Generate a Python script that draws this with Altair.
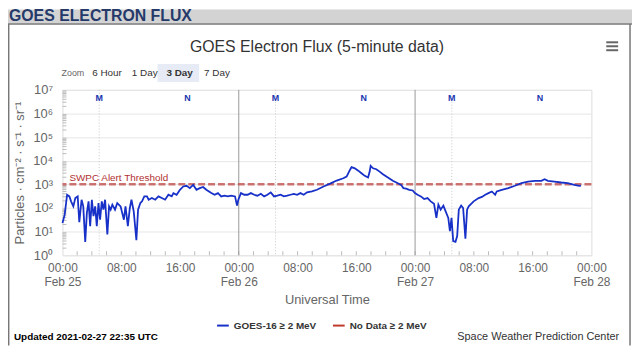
import altair as alt
import pandas as pd

FONT = "Liberation Sans"

# hours after 2021-02-25 00:00 UTC
HOURS = [0.0, 0.3, 0.63, 0.94, 1.17, 1.48, 1.75, 2.07, 2.29, 2.6, 2.83, 3.1, 3.32, 3.55, 3.77, 4.0,
         4.22, 4.45, 4.67, 4.9, 5.12, 5.35, 5.57, 5.8, 6.11, 6.34, 6.56, 6.79, 7.15, 7.46, 7.91, 8.36,
         8.58, 8.9, 9.17, 9.39, 9.7, 10.06, 10.29, 10.6, 10.83, 11.14, 11.5, 11.73, 12.17, 12.62,
         13.07, 13.52, 13.97, 14.42, 14.87, 15.1, 15.54, 15.99, 16.44, 16.89, 17.34, 17.79, 18.24,
         18.69, 19.14, 19.58, 20.26, 20.71, 21.16, 21.61, 22.06, 22.51, 22.95, 23.49, 23.76, 23.94,
         24.3, 24.75, 25.2, 25.65, 26.1, 26.55, 27.0, 27.45, 27.9, 28.35, 28.8, 29.24, 29.69, 30.14,
         30.59, 31.04, 31.49, 31.94, 32.39, 32.84, 33.29, 33.96, 34.64, 35.54, 36.43, 37.33, 38.23,
         38.68, 39.13, 39.35, 39.8, 40.26, 40.7, 41.15, 41.6, 41.82, 41.95, 42.28, 42.72, 43.17,
         43.62, 44.3, 44.97, 45.65, 46.09, 46.41, 46.77, 47.21, 47.67, 47.98, 48.34, 48.79, 49.23,
         49.69, 50.13, 50.58, 50.9, 51.17, 51.48, 51.85, 52.16, 52.52, 52.74, 52.96, 53.19, 53.5,
         53.73, 53.95, 54.27, 54.54, 54.85, 55.08, 55.3, 55.53, 55.97, 56.65, 57.1, 57.55, 57.99,
         58.45, 58.9, 59.12, 59.8, 60.69, 61.59, 62.49, 63.38, 64.29, 65.19, 65.63, 66.08, 66.98,
         67.88, 68.77, 69.68, 70.35, 70.58]

FLUX = [23, 52, 363, 309, 191, 117, 263, 309, 25, 224, 117, 3.7, 62, 191, 17, 224,
        45, 117, 17, 162, 32, 191, 85, 224, 7.6, 117, 85, 138, 85, 162, 117, 32,
        117, 17, 100, 224, 72, 4.3, 85, 162, 191, 309, 309, 224, 263, 224,
        309, 263, 224, 363, 309, 427, 363, 589, 813, 871, 692, 955, 589,
        692, 776, 589, 427, 363, 427, 309, 331, 309, 331, 309, 126, 224,
        427, 363, 363, 427, 363, 331, 398, 309, 363, 457, 309, 331, 363, 309,
        331, 363, 398, 363, 427, 363, 457, 501, 589, 813, 1070, 1450, 1820,
        2140, 4070, 5370, 4790, 3800, 2950, 2290, 1950, 3470, 6030, 4790, 4370, 3470,
        2690, 1950, 1410, 1120, 955, 692, 661, 589, 550, 427, 363, 309, 240,
        263, 191, 151, 38, 138, 85, 126, 72, 38, 10.5, 38, 4.0, 3.7,
        6.5, 85, 126, 100, 5.0, 85, 117, 138, 191, 263, 295, 363, 427,
        501, 363, 501, 589, 692, 871, 1120, 1320, 1410, 1410, 1660, 1410, 1320,
        1200, 1120, 955, 871, 891]

SERIES = ["GOES-16 ≥ 2 MeV", "No Data ≥ 2 MeV"]
SERIES_COLORS = ["#1730c8", "#c0392b"]
THRESHOLD = [1000]
DAY_LINES = [24, 48]
M_HOURS = [5, 29, 53]
N_HOURS = [17, 41, 65]
X_TICKS = [0, 8, 16, 24, 32, 40, 48, 56, 64, 72]
MINOR_X = list(range(2, 72, 2))
Y_TICKS = [1, 10, 100, 1e3, 1e4, 1e5, 1e6, 1e7]
MINOR_Y = [m * 10 ** k for k in range(7) for m in range(2, 10)]

W, H = 534, 167

flux_df = pd.DataFrame({"hour": HOURS, "flux": FLUX, "series": SERIES[0]})
ONE = pd.DataFrame({"k": [0]})

x_lab = ("datum.value % 24 == 0 ? ['00:00', 'Feb ' + (25 + datum.value / 24)] : "
         "(datum.value % 24 == 8 ? '08:00' : '16:00')")
y_lab = "'10' + ['⁰','¹','²','³','⁴','⁵','⁶','⁷'][round(log(datum.value) / LN10)]"

xscale = alt.Scale(domain=[0, 72], nice=False, zero=False)
yscale = alt.Scale(type="log", domain=[1, 1e7], nice=False)

X_AXIS = alt.Axis(values=X_TICKS, labelExpr=x_lab, title="Universal Time", grid=False,
                  ticks=False, domain=False, labelFontSize=12, labelColor="#666",
                  labelLineHeight=15, labelPadding=7, labelFlush=False, labelOverlap=False,
                  titleFontSize=13, titleColor="#666", titleFontWeight="normal",
                  titlePadding=6, labelFont=FONT, titleFont=FONT)
Y_AXIS = alt.Axis(values=Y_TICKS, labelExpr=y_lab, title="Particles · cm⁻² · s⁻¹ · sr⁻¹",
                  grid=True, gridColor="#e6e6e6", ticks=False, domain=False,
                  labelFontSize=13, labelColor="#666", labelPadding=10, labelFont=FONT,
                  titleFontSize=13, titleColor="#666", titleFontWeight="normal",
                  titlePadding=6, titleFont=FONT)


def xenc(field):
    return alt.X(field, scale=xscale, axis=X_AXIS)


def yenc(field):
    return alt.Y(field, scale=yscale, axis=Y_AXIS)


line = alt.Chart(flux_df).mark_line(strokeWidth=1.8, interpolate="linear").encode(
    x=xenc("hour:Q"),
    y=yenc("flux:Q"),
    color=alt.Color("series:N", scale=alt.Scale(domain=SERIES, range=SERIES_COLORS),
                    legend=alt.Legend(orient="none", legendX=155, legendY=231, direction="horizontal",
                                      title=None, symbolType="stroke", symbolStrokeWidth=2,
                                      symbolSize=140, labelFontSize=10, labelFontWeight="bold",
                                      labelColor="#333", labelFont=FONT, columnPadding=12)),
)

thr = alt.Chart(pd.DataFrame({"flux": THRESHOLD})).mark_rule(
    color="#c0504d", opacity=0.8, strokeWidth=2.5, strokeDash=[7, 3]).encode(
    y=yenc("flux:Q"))

minor_y = alt.Chart(pd.DataFrame({"flux": MINOR_Y})).mark_rule(color="#bbbbbb", strokeWidth=1).encode(
    y=yenc("flux:Q"), x=alt.value(0), x2=alt.value(4))

minor_x = alt.Chart(pd.DataFrame({"hour": MINOR_X})).mark_rule(color="#bbbbbb", strokeWidth=1).encode(
    x=xenc("hour:Q"), y=alt.value(H - 4), y2=alt.value(H))

day_rules = alt.Chart(pd.DataFrame({"hour": DAY_LINES})).mark_rule(color="#999999", strokeWidth=1).encode(
    x=xenc("hour:Q"))

m_rules = alt.Chart(pd.DataFrame({"hour": M_HOURS})).mark_rule(
    color="#c8c8c8", strokeWidth=1, strokeDash=[1, 2]).encode(
    x=xenc("hour:Q"))

mn_df = pd.DataFrame({"hour": M_HOURS + N_HOURS, "t": ["M"] * 3 + ["N"] * 3})
mn_text = alt.Chart(mn_df).mark_text(fontSize=9, fontWeight="bold", color="#2035b0",
                                     font=FONT, baseline="middle").encode(
    x=xenc("hour:Q"), y=alt.value(8), text="t:N")


def label(text, x, y, size=12, color="#333", weight="normal", align="left"):
    return alt.Chart(ONE).mark_text(text=text, fontSize=size, color=color, fontWeight=weight,
                                    align=align, baseline="alphabetic", font=FONT).encode(
        x=alt.value(x), y=alt.value(y))


def rect(x, x2, y, y2, color):
    return alt.Chart(ONE).mark_rect(color=color).encode(
        x=alt.value(x), x2=alt.value(x2), y=alt.value(y), y2=alt.value(y2))


def hline(x, x2, y, color, width):
    return alt.Chart(ONE).mark_rule(color=color, strokeWidth=width).encode(
        x=alt.value(x), x2=alt.value(x2), y=alt.value(y))


def vline(x, y, y2, color, width):
    return alt.Chart(ONE).mark_rule(color=color, strokeWidth=width).encode(
        x=alt.value(x), y=alt.value(y), y2=alt.value(y2))


back = [
    rect(-55, 575, -81, -67, "#d3d3d3"),
    hline(-55, 575, -66.5, "#777777", 1.5),
    vline(-54.3, -66.5, 258, "#777777", 1.5),
    vline(573, -66.5, 258, "#777777", 1.5),
    label("GOES ELECTRON FLUX", -54, -69.5, size=16, color="#253a6a", weight="bold"),
    label("GOES Electron Flux (5-minute data)", 257, -38, size=16, color="#333", align="center"),
    hline(549, 561, -48, "#666666", 2),
    hline(549, 561, -44, "#666666", 2),
    hline(549, 561, -40, "#666666", 2),
    rect(96, 138, -26, -8, "#e6ebf5"),
]
front = [
    label("Zoom", -1, -14, size=9, color="#666"),
    label("6 Hour", 30, -14, size=10),
    label("1 Day", 70, -14, size=10),
    label("3 Day", 105, -14, size=10, weight="bold"),
    label("7 Day", 143, -14, size=10),
    label("SWPC Alert Threshold", 7, 92, size=10, color="#b03030"),
    label("Updated 2021-02-27 22:35 UTC", -49, 253, size=10, color="#000", weight="bold"),
    label("Space Weather Prediction Center", 562, 253, size=11, color="#333", align="right"),
]

chart = alt.layer(
    *back, minor_y, minor_x, m_rules, day_rules, thr, line, mn_text, *front
).properties(
    width=W, height=H,
    padding={"left": 55, "top": 81, "right": 41, "bottom": 91},
    autosize=alt.AutoSizeParams(type="none"),
).configure_view(stroke="#cccccc").configure(font=FONT)

chart.save("out.html", embed_options={"renderer": "svg", "actions": False})
